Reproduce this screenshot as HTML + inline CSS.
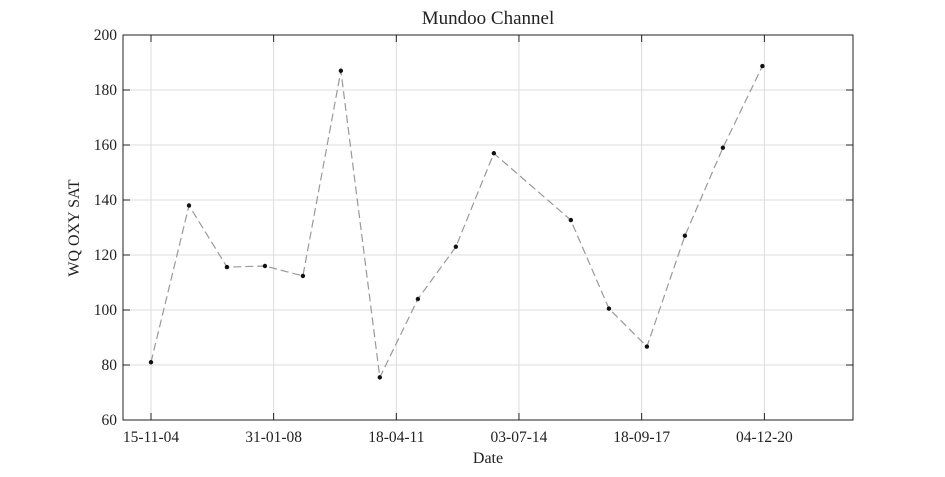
<!DOCTYPE html>
<html><head><meta charset="utf-8"><style>
body{margin:0;background:#fff;}
svg text{font-family:"Liberation Serif",serif;fill:#222;}
</style></head><body>
<svg id="chart" width="945" height="472" xmlns="http://www.w3.org/2000/svg">
<text x="488" y="24" font-size="19" text-anchor="middle">Mundoo Channel</text>
<text x="488" y="463" font-size="16" text-anchor="middle">Date</text>
<text transform="translate(79,228) rotate(-90)" font-size="16" text-anchor="middle">WQ OXY SAT</text>
<g id="grid"></g>
<g id="marks"></g>
<g id="axes"></g>
</svg>
<script>
const dates = ["2004-11-15","2005-11-13","2006-11-11","2007-11-09","2008-11-06","2009-11-04","2010-11-11","2011-11-10","2012-11-07","2013-11-05","2015-11-11","2016-11-09","2017-11-07","2018-11-05","2019-11-03","2020-11-15"];
const values = [81,138,115.6,116,112.4,187,75.5,104,123,157,132.7,100.5,86.7,127,159,188.7];
const xTickDates = ["2004-11-15","2008-01-31","2011-04-18","2014-07-03","2017-09-18","2020-12-04"];
const xTickLabels = ["15-11-04","31-01-08","18-04-11","03-07-14","18-09-17","04-12-20"];
const yTicks = [60,80,100,120,140,160,180,200];

const NS="http://www.w3.org/2000/svg";
const L=123,R=853,T=35,B=420;
const t0=Date.parse("2004-11-15");
function xs(d){return 151+(Date.parse(d)-t0)/86400000*0.10462;}
function ys(v){return B-(v-60)/140*(B-T);}
function mk(tag,attrs,parent){const e=document.createElementNS(NS,tag);for(const k in attrs)e.setAttribute(k,attrs[k]);parent.appendChild(e);return e;}
const grid=document.getElementById('grid'),axes=document.getElementById('axes'),marks=document.getElementById('marks');
yTicks.forEach(v=>{const y=ys(v);
 const g=mk('line',{x1:L,x2:R,y1:y,y2:y,stroke:'#dcdcdc','stroke-width':1},grid);
 
 
 const t1=mk('line',{x1:L,x2:L+7,y1:y,y2:y,stroke:'#222'},axes);
 
 
 const t2=mk('line',{x1:R,x2:R-7,y1:y,y2:y,stroke:'#222'},axes);
 
 
 const tx=mk('text',{x:L-6,y:y+5,'font-size':15.5,'text-anchor':'end'},axes);tx.textContent=v;
 
 
});
xTickDates.forEach((d,i)=>{const x=xs(d);
 const g=mk('line',{x1:x,x2:x,y1:T,y2:B,stroke:'#dcdcdc','stroke-width':1},grid);
 
 
 const t1=mk('line',{x1:x,x2:x,y1:B,y2:B-7,stroke:'#222'},axes);
 
 
 const t2=mk('line',{x1:x,x2:x,y1:T,y2:T+7,stroke:'#222'},axes);
 
 
 const tx=mk('text',{x:x,y:442,'font-size':15.5,'text-anchor':'middle'},axes);tx.textContent=xTickLabels[i];
 
 
});
const box=mk('rect',{x:L,y:T,width:R-L,height:B-T,fill:'none',stroke:'#222','stroke-width':1},axes);


const pts=dates.map((d,i)=>xs(d).toFixed(1)+','+ys(values[i]).toFixed(1)).join(' ');
const line=mk('polyline',{points:pts,fill:'none',stroke:'#999','stroke-width':1.2,'stroke-dasharray':'8,4'},marks);


dates.forEach((d,i)=>{const c=mk('circle',{cx:xs(d),cy:ys(values[i]),r:2.2,fill:'#111'},marks);
 
 
});
</script>
</body></html>
